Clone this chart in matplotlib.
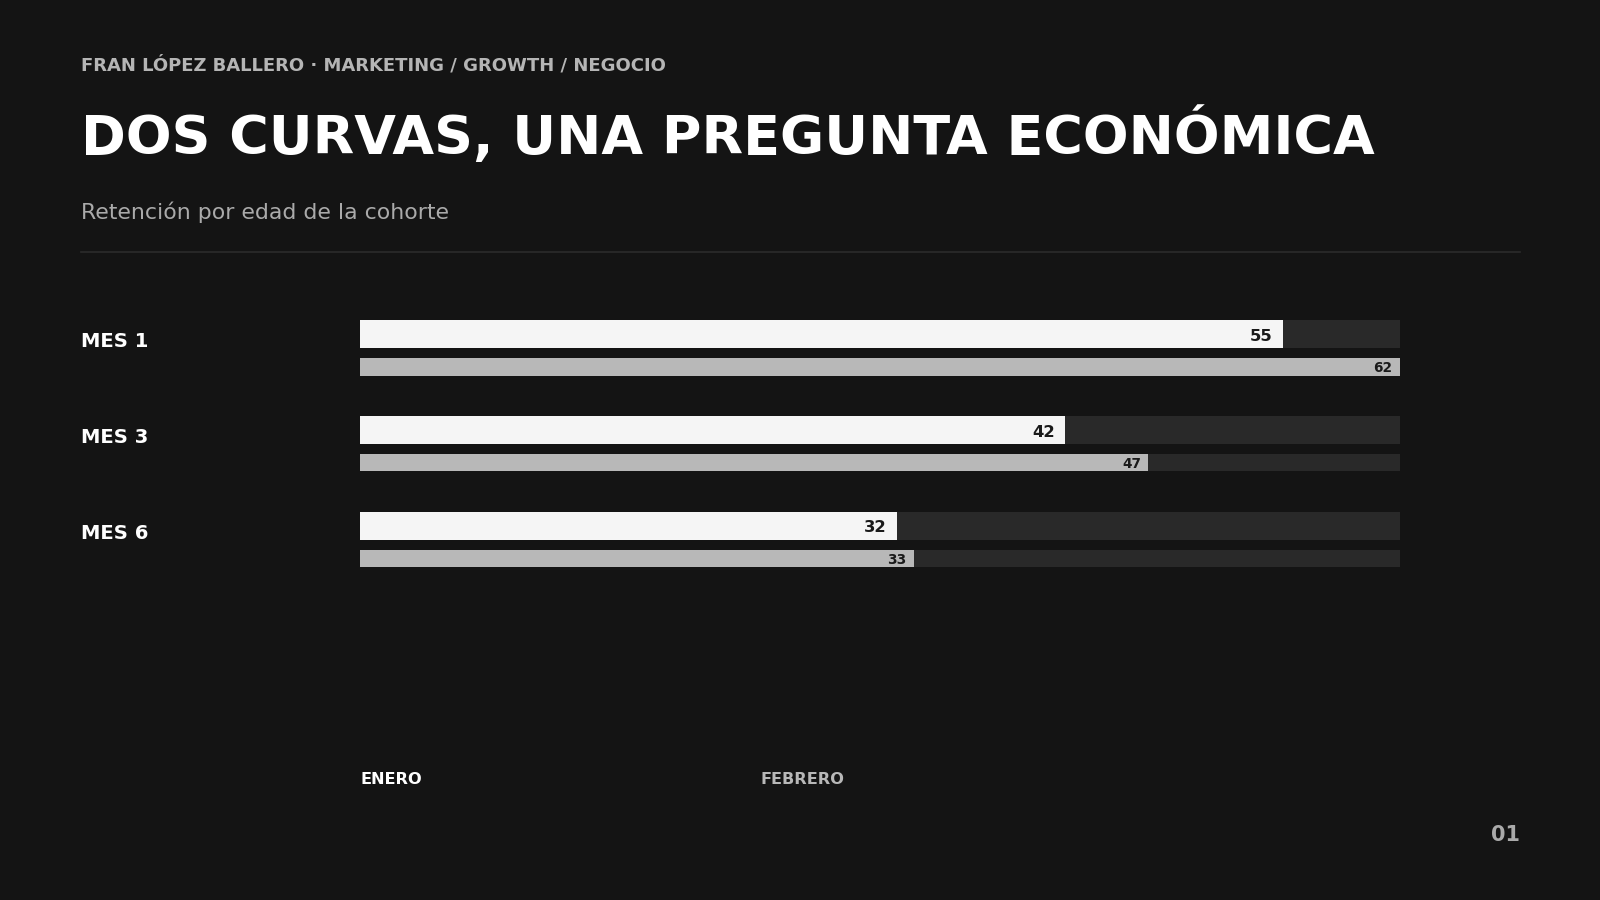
import matplotlib.pyplot as plt

# datos de retención por edad de cohorte
cohortes = ['MES 1', 'MES 3', 'MES 6']
enero = [55, 42, 32]
febrero = [62, 47, 33]
series = ['ENERO', 'FEBRERO']

bg = '#141414'
track = '#292929'
c_enero = '#f5f5f5'
c_febrero = '#b8b8b8'

W, H = 1568, 882  # coordenadas de referencia


def fx(x):
    return x / W


def fy(y):
    return 1 - y / H


fig = plt.figure(figsize=(16, 9), dpi=100, facecolor=bg)

# cabecera
fig.text(fx(79), fy(64), 'FRAN LÓPEZ BALLERO · MARKETING / GROWTH / NEGOCIO',
         color='#b5b5b5', fontsize=13, fontweight='bold', va='center')
fig.text(fx(79), fy(133), 'DOS CURVAS, UNA PREGUNTA ECONÓMICA',
         color='white', fontsize=38.8, fontweight='bold', va='center')
fig.text(fx(79), fy(208), 'Retención por edad de la cohorte',
         color='#aaaaaa', fontsize=15.8, va='center')
fig.add_artist(plt.Line2D([fx(79), fx(1490)], [fy(247), fy(247)],
                          color='#2c2c2c', lw=1.2, transform=fig.transFigure))

# barras
pitch = 94
y_top, y_bot = 327.5 - 0.5 * pitch, 327.5 + 2.6 * pitch
ax = fig.add_axes([fx(353), fy(y_bot), fx(1372) - fx(353), (y_bot - y_top) / H])
ax.set_facecolor(bg)
ax.set_xlim(0, max(febrero))
ax.set_ylim(2.6, -0.5)
ax.axis('off')

h1, h2 = 27 / pitch, 17 / pitch
off2 = 32 / pitch
xmax = max(febrero)

for i, (cat, a, b) in enumerate(zip(cohortes, enero, febrero)):
    ax.barh(i, xmax, height=h1, color=track, lw=0)
    ax.barh(i, a, height=h1, color=c_enero, lw=0)
    ax.barh(i + off2, xmax, height=h2, color=track, lw=0)
    ax.barh(i + off2, b, height=h2, color=c_febrero, lw=0)
    ax.text(a - 0.6, i + 0.02, str(a), ha='right', va='center',
            color='#1a1a1a', fontsize=11.8, fontweight='bold')
    ax.text(b - 0.45, i + off2 + 0.01, str(b), ha='right', va='center',
            color='#1a1a1a', fontsize=9.8, fontweight='bold')
    fig.text(fx(79), fy(334.5 + i * pitch), cat, color='white',
             fontsize=14.1, fontweight='bold', va='center')

# leyenda
fig.text(fx(353), fy(764), series[0], color='white', fontsize=11.6,
         fontweight='bold', va='center')
fig.text(fx(745), fy(764), series[1], color=c_febrero, fontsize=11.6,
         fontweight='bold', va='center')

# número de página
fig.text(fx(1490), fy(818.5), '01', color='#aaaaaa', fontsize=15,
         fontweight='bold', va='center', ha='right')

fig.savefig('out.png', dpi=100, facecolor=bg)
